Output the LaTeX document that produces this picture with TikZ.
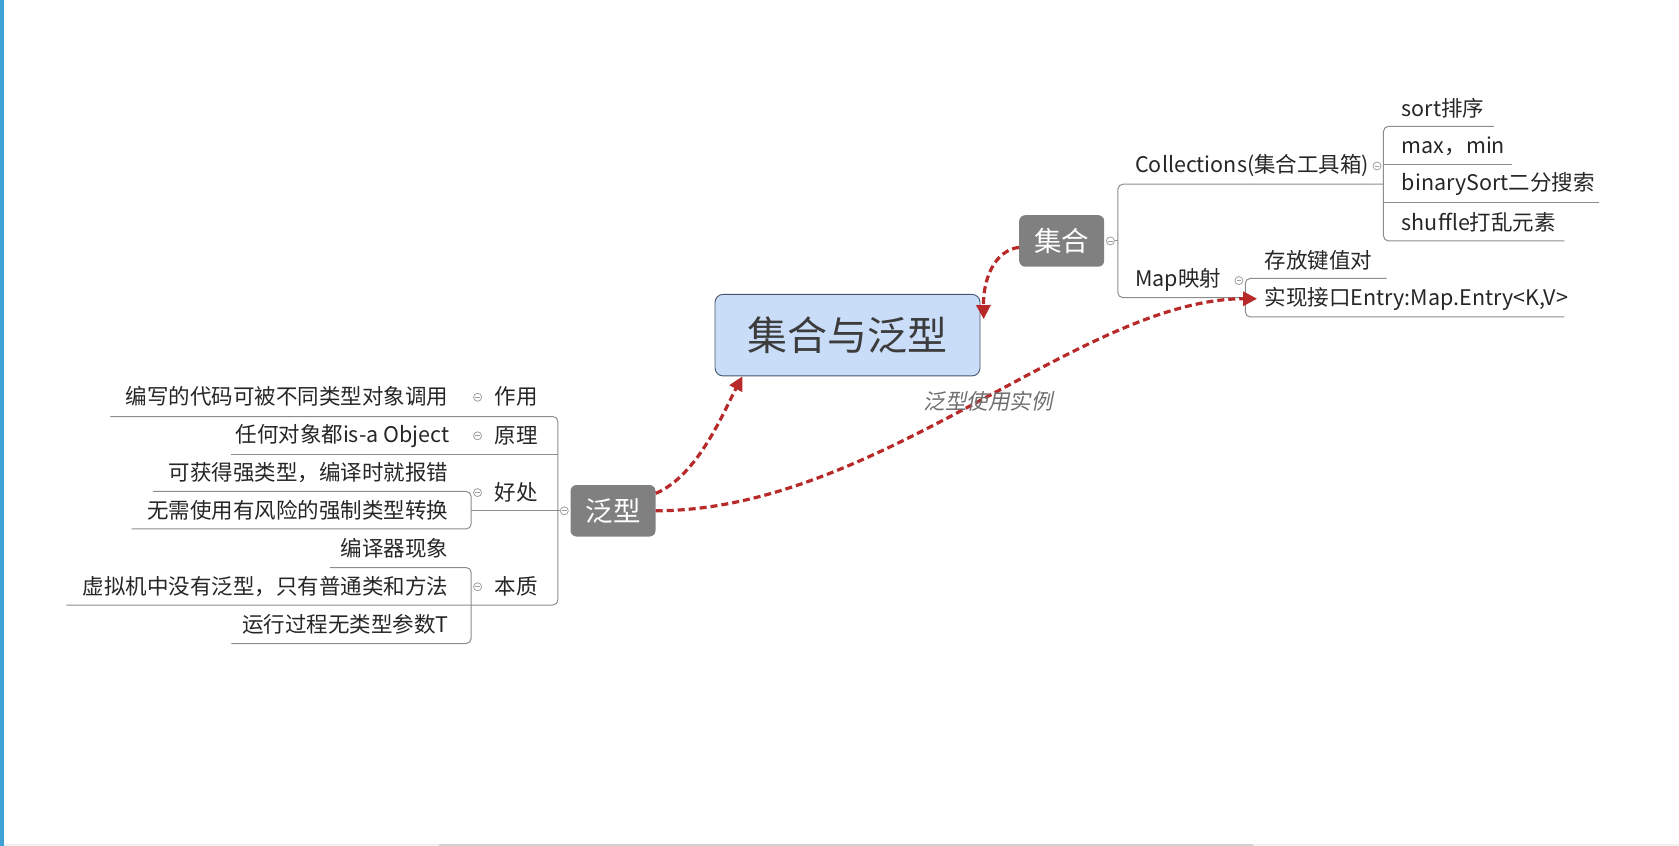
\documentclass[tikz,border=0pt]{standalone}
\usepackage{fontspec}
\setmainfont{Noto Sans CJK SC}
\newfontfamily\cjkit[FakeSlant=0.2]{Noto Sans CJK SC}
\usetikzlibrary{arrows.meta,calc}
\definecolor{relred}{RGB}{184,42,42}
\definecolor{treeg}{RGB}{140,140,140}
\definecolor{topicg}{RGB}{128,128,128}
\definecolor{cfill}{RGB}{201,221,249}
\definecolor{cdraw}{RGB}{70,86,110}
\definecolor{barblue}{RGB}{62,162,214}
\definecolor{mkg}{RGB}{160,160,160}
\definecolor{txtc}{RGB}{38,38,38}
\begin{document}
\begin{tikzpicture}[x=1.0708pt,y=-1.0708pt,
  txt/.style={inner sep=0pt,font=\fontsize{21.5}{25}\selectfont,text=txtc},
  tree/.style={draw=treeg,line width=1pt,rounded corners=5pt},
  topic/.style={fill=topicg,rounded corners=6pt,text=white,inner sep=0pt,
    minimum width=85pt,minimum height=51.5pt,font=\fontsize{27.5}{30}\selectfont},
  central/.style={fill=cfill,draw=cdraw,line width=0.9pt,rounded corners=8pt,
    minimum width=265pt,minimum height=81.5pt,inner sep=0pt,
    text={rgb,255:red,60;green,60;blue,60},font=\fontsize{40}{44}\selectfont},
  mk/.style={circle,draw=mkg,line width=0.8pt,fill=white,minimum size=8pt,inner sep=0pt,
    path picture={\draw[mkg,line width=0.8pt] ([xshift=-2.2pt]path picture bounding box.center) -- ([xshift=2.2pt]path picture bounding box.center);}},
  rel/.style={draw=relred,line width=3.2pt,dash pattern=on 7pt off 4pt,
    -{Triangle[length=14pt,width=14pt,fill=relred]}},
  rellabel/.style={inner sep=0pt,font=\cjkit\fontsize{21.5}{25}\selectfont,text={rgb,255:red,110;green,110;blue,110}}
]
\useasboundingbox (0,0) rectangle (1568,790);
% window edges
\fill[barblue] (0,0) rectangle (3.6,790);
\fill[black!6] (3.6,788.6) rectangle (1568,790);
\fill[black!18] (410,788.6) rectangle (1170,790);

% main topics
\node[central] (root) at (791.5,313) {集合与泛型};
\node[topic] (jh) at (991.5,225) {集合};
\node[topic] (fx) at (572.5,477) {泛型};

% ---------- right branch: 集合 ----------
\node[txt,anchor=west] (coll) at (1060,155) {Collections(集合工具箱)};
\node[txt,anchor=west] (map) at (1060,261) {Map映射};
\node[txt,anchor=west] (sort) at (1309,101) {sort排序};
\node[txt,anchor=west] (mx) at (1309,137) {max，min};
\node[txt,anchor=west] (bin) at (1309,172) {binarySort二分搜索};
\node[txt,anchor=west] (shuf) at (1309,208) {shuffle打乱元素};
\node[txt,anchor=west] (kv) at (1181,243) {存放键值对};
\node[txt,anchor=west] (impl) at (1181,279) {实现接口Entry:Map.Entry<K,V>};

\node[mk] (mjh) at (1037,225) {};
\node[mk] (mcoll) at (1286,155) {};
\node[mk] (mmap) at (1157,262) {};

\coordinate (jv) at (1044,225);
\draw[tree] (mjh) -- (jv);
\draw[tree] (1292,172) -- (1044,172) -- (1044,278) -- (1163,278);
\draw[tree] (1395,118) -- (1292,118) -- (1292,225) -- (1461,225);
\draw[tree] (1292,154) -- (1412,154);
\draw[tree] (1292,189) -- (1493,189);
\draw[tree] (1295,260) -- (1163,260) -- (1163,296) -- (1461,296);

% ---------- left branch: 泛型 ----------
\node[txt,anchor=west] (zy) at (462,370) {作用};
\node[txt,anchor=west] (yl) at (462,407) {原理};
\node[txt,anchor=west] (hc) at (462,460) {好处};
\node[txt,anchor=west] (bz) at (462,548) {本质};
\node[txt,anchor=east] (zy1) at (419,370) {编写的代码可被不同类型对象调用};
\node[txt,anchor=east] (yl1) at (420,407) {任何对象都is-a Object};
\node[txt,anchor=east] (hc1) at (419,441) {可获得强类型，编译时就报错};
\node[txt,anchor=east] (hc2) at (419,477) {无需使用有风险的强制类型转换};
\node[txt,anchor=east] (bz1) at (419,512) {编译器现象};
\node[txt,anchor=east] (bz2) at (419,548) {虚拟机中没有泛型，只有普通类和方法};
\node[txt,anchor=east] (bz3) at (419,583) {运行过程无类型参数T};

\node[mk] (mfx) at (527,477) {};
\node[mk] (mzy) at (446,371) {};
\node[mk] (myl) at (446,407) {};
\node[mk] (mhc) at (446,460) {};
\node[mk] (mbz) at (446,548) {};

\draw[tree] (103,389) -- (521,389) -- (521,565) -- (62,565);
\draw[tree] (216,424) -- (521,424);
\draw[tree] (440,477) -- (mfx);
\draw[tree] (143,459) -- (440,459) -- (440,494) -- (123,494);
\draw[tree] (308,530) -- (440,530) -- (440,601) -- (216,601);

% ---------- relationships ----------
\draw[rel] ($(fx.north east)+(0,8)$) .. controls (652,444) and (676,384) .. ($(root.south west)+(26,0)$);
\draw[rel] ($(jh.west)+(0,6)$) .. controls (928,234) and (918,262) .. ($(root.east)+(3,-15)$);
\draw[rel] (fx.east) .. controls (820,477) and (1010,279) .. ($(impl.west)+(-7,0)$);
\node[rellabel] (lbl) at (923,375) {泛型使用实例};
\end{tikzpicture}
\end{document}
